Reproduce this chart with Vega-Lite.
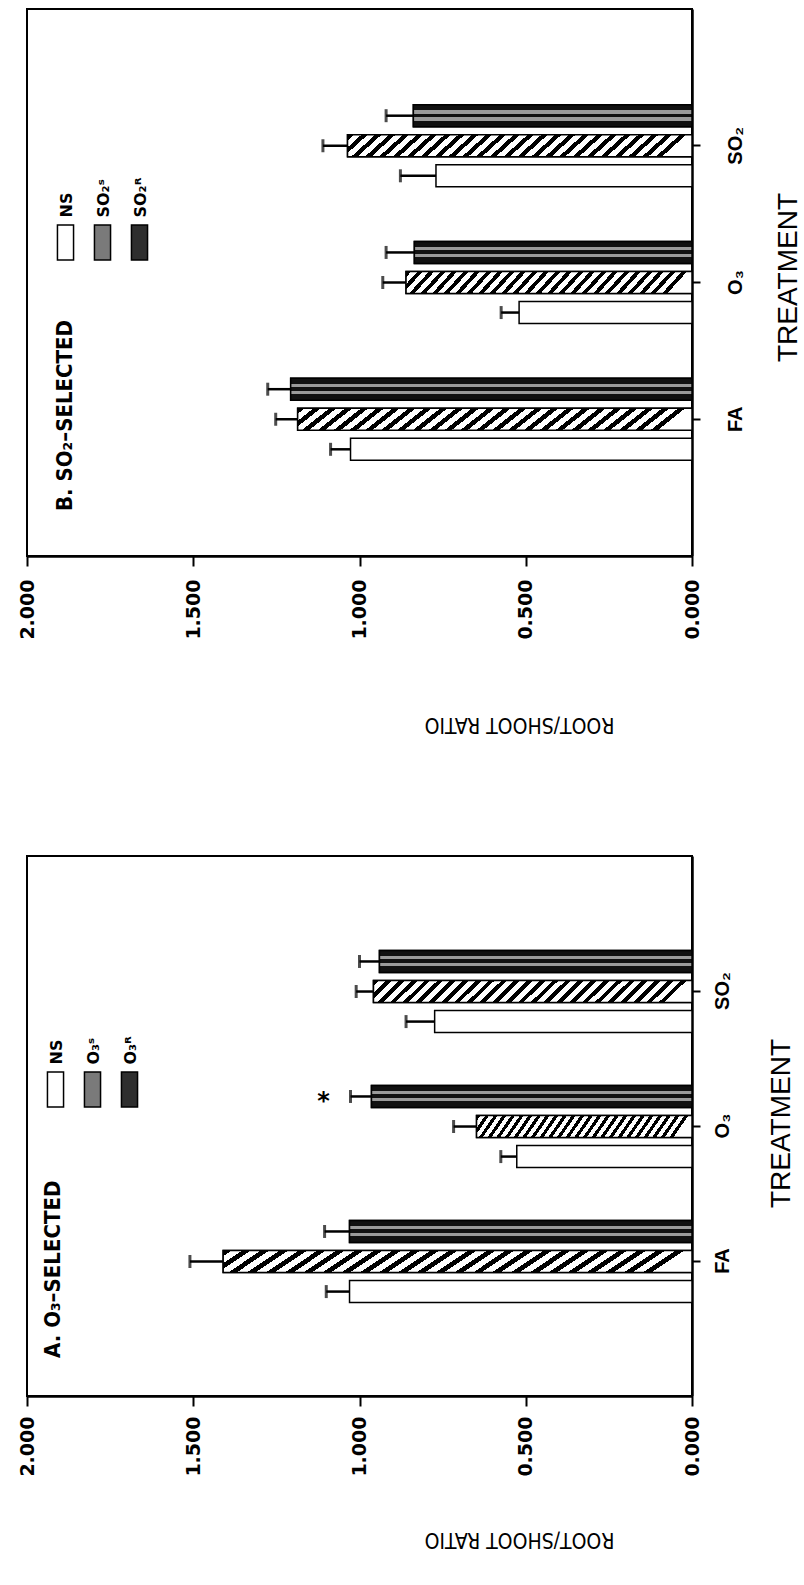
{
  "$schema": "https://vega.github.io/schema/vega-lite/v6.json",
  "background": "white",
  "padding": {"left": 17, "top": 8, "right": 4, "bottom": 30},
  "autosize": {"type": "pad"},
  "config": {
    "view": {"stroke": "black", "strokeWidth": 2},
    "axis": {"domainColor": "black", "tickColor": "black", "labelColor": "black", "titleColor": "black", "grid": false}
  },
  "datasets": {
    "bars": [
      {"panel": "A", "treatment": "FA", "line": "NS", "ratio": 1.03, "upper": 1.10, "sig": ""},
      {"panel": "A", "treatment": "FA", "line": "S", "ratio": 1.41, "upper": 1.51, "sig": ""},
      {"panel": "A", "treatment": "FA", "line": "R", "ratio": 1.03, "upper": 1.105, "sig": ""},
      {"panel": "A", "treatment": "O₃", "line": "NS", "ratio": 0.527, "upper": 0.575, "sig": ""},
      {"panel": "A", "treatment": "O₃", "line": "S", "ratio": 0.648, "upper": 0.717, "sig": ""},
      {"panel": "A", "treatment": "O₃", "line": "R", "ratio": 0.964, "upper": 1.027, "sig": "*"},
      {"panel": "A", "treatment": "SO₂", "line": "NS", "ratio": 0.774, "upper": 0.86, "sig": ""},
      {"panel": "A", "treatment": "SO₂", "line": "S", "ratio": 0.958, "upper": 1.01, "sig": ""},
      {"panel": "A", "treatment": "SO₂", "line": "R", "ratio": 0.94, "upper": 1.00, "sig": ""},
      {"panel": "B", "treatment": "FA", "line": "NS", "ratio": 1.027, "upper": 1.087, "sig": ""},
      {"panel": "B", "treatment": "FA", "line": "S", "ratio": 1.186, "upper": 1.252, "sig": ""},
      {"panel": "B", "treatment": "FA", "line": "R", "ratio": 1.207, "upper": 1.276, "sig": ""},
      {"panel": "B", "treatment": "O₃", "line": "NS", "ratio": 0.52, "upper": 0.574, "sig": ""},
      {"panel": "B", "treatment": "O₃", "line": "S", "ratio": 0.86, "upper": 0.93, "sig": ""},
      {"panel": "B", "treatment": "O₃", "line": "R", "ratio": 0.835, "upper": 0.92, "sig": ""},
      {"panel": "B", "treatment": "SO₂", "line": "NS", "ratio": 0.77, "upper": 0.877, "sig": ""},
      {"panel": "B", "treatment": "SO₂", "line": "S", "ratio": 1.036, "upper": 1.11, "sig": ""},
      {"panel": "B", "treatment": "SO₂", "line": "R", "ratio": 0.838, "upper": 0.92, "sig": ""}
    ]
  },
  "bounds": "flush",
  "spacing": 300,
  "resolve": {"scale": {"fill": "independent"}, "legend": {"fill": "independent"}},
  "vconcat": [
    {
      "width": 665,
      "height": 547,
      "title": {"text": "B. SO₂–SELECTED", "orient": "left", "anchor": "start", "frame": "group", "offset": -59, "dx": 45, "font": "Liberation Sans Narrow, DejaVu Sans Condensed, sans-serif", "fontSize": 22, "fontWeight": "bold", "color": "black"},
      "data": {"name": "bars"},
      "transform": [{"filter": "datum.panel === 'B'"}],
      "encoding": {
        "y": {"field": "treatment", "type": "nominal",
          "scale": {"domain": ["SO₂", "O₃", "FA"], "paddingInner": 0.4, "paddingOuter": 0.7},
          "axis": {"orient": "right", "title": "TREATMENT", "labelAngle": -90, "labelAlign": "center", "labelBaseline": "top", "labelFont": "Liberation Sans", "labelFontWeight": "bold", "labelFontSize": 20, "labelPadding": 25, "tickSize": 8, "tickWidth": 2, "domainWidth": 2.5, "titleAngle": -90, "titleX": 82, "titleY": 268, "titleAlign": "center", "titleBaseline": "top", "titleFont": "Liberation Sans", "titleFontSize": 28, "titleFontWeight": "normal"}},
        "yOffset": {"field": "line", "type": "nominal", "scale": {"domain": ["R", "S", "NS"], "paddingInner": 0.27, "paddingOuter": 0}}
      },
      "layer": [
        {
          "mark": {"type": "bar", "stroke": "black", "strokeWidth": 1.5},
          "encoding": {
            "x": {"field": "ratio", "type": "quantitative", "scale": {"domain": [0, 2], "reverse": true, "nice": false},
              "axis": {"orient": "bottom", "values": [0, 0.5, 1, 1.5, 2], "format": ".3f", "labelAngle": -90, "labelAlign": "right", "labelBaseline": "middle", "labelFont": "DejaVu Sans", "labelFontWeight": "bold", "labelFontSize": 19, "labelPadding": 13, "tickSize": 10, "tickWidth": 2, "domainWidth": 2.5, "title": "ROOT/SHOOT RATIO", "titleAngle": 180, "titleX": 492, "titleY": 167, "titleAlign": "center", "titleBaseline": "middle", "titleFont": "Liberation Sans Narrow, DejaVu Sans Condensed, sans-serif", "titleFontSize": 21, "titleFontWeight": "normal"}},
            "fill": {"field": "line", "type": "nominal",
              "scale": {"domain": ["NS", "S", "R"], "range": ["#ffffff", "#7a7a7a", "#2e2e2e"]},
              "legend": {"title": null, "orient": "none", "legendX": 20, "legendY": 215, "direction": "horizontal", "padding": 0, "columnPadding": 7, "symbolType": "M-0.46,-1H0.46V1H-0.46Z", "symbolSize": 1225, "symbolStrokeColor": "black", "symbolStrokeWidth": 1.5, "labelFont": "DejaVu Sans", "labelFontWeight": "bold", "labelFontSize": 16, "labelColor": "black", "labelOffset": 0,
                "labelExpr": "datum.label === 'S' ? 'SO₂ˢ' : datum.label === 'R' ? 'SO₂ᴿ' : 'NS'",
                "encode": {"labels": {"update": {"angle": {"value": -90}, "align": {"value": "left"}, "baseline": {"value": "middle"}, "dx": {"value": 25}, "dy": {"value": -17.5}}}}}}
          }
        },
        {
          "transform": [{"filter": "datum.line === 'S'"}],
          "mark": {"type": "bar", "stroke": "black", "strokeWidth": 1.5,
            "fill": {"gradient": "linear", "x1": 0, "y1": 0, "x2": 1, "y2": 0.07, "stops": [
              {"offset": 0, "color": "black"}, {"offset": 0.018, "color": "black"}, {"offset": 0.018, "color": "white"}, {"offset": 0.04, "color": "white"},
              {"offset": 0.04, "color": "black"}, {"offset": 0.058, "color": "black"}, {"offset": 0.058, "color": "white"}, {"offset": 0.08, "color": "white"},
              {"offset": 0.08, "color": "black"}, {"offset": 0.098, "color": "black"}, {"offset": 0.098, "color": "white"}, {"offset": 0.12, "color": "white"},
              {"offset": 0.12, "color": "black"}, {"offset": 0.138, "color": "black"}, {"offset": 0.138, "color": "white"}, {"offset": 0.16, "color": "white"},
              {"offset": 0.16, "color": "black"}, {"offset": 0.178, "color": "black"}, {"offset": 0.178, "color": "white"}, {"offset": 0.2, "color": "white"},
              {"offset": 0.2, "color": "black"}, {"offset": 0.218, "color": "black"}, {"offset": 0.218, "color": "white"}, {"offset": 0.24, "color": "white"},
              {"offset": 0.24, "color": "black"}, {"offset": 0.258, "color": "black"}, {"offset": 0.258, "color": "white"}, {"offset": 0.28, "color": "white"},
              {"offset": 0.28, "color": "black"}, {"offset": 0.298, "color": "black"}, {"offset": 0.298, "color": "white"}, {"offset": 0.32, "color": "white"},
              {"offset": 0.32, "color": "black"}, {"offset": 0.338, "color": "black"}, {"offset": 0.338, "color": "white"}, {"offset": 0.36, "color": "white"},
              {"offset": 0.36, "color": "black"}, {"offset": 0.378, "color": "black"}, {"offset": 0.378, "color": "white"}, {"offset": 0.4, "color": "white"},
              {"offset": 0.4, "color": "black"}, {"offset": 0.418, "color": "black"}, {"offset": 0.418, "color": "white"}, {"offset": 0.44, "color": "white"},
              {"offset": 0.44, "color": "black"}, {"offset": 0.458, "color": "black"}, {"offset": 0.458, "color": "white"}, {"offset": 0.48, "color": "white"},
              {"offset": 0.48, "color": "black"}, {"offset": 0.498, "color": "black"}, {"offset": 0.498, "color": "white"}, {"offset": 0.52, "color": "white"},
              {"offset": 0.52, "color": "black"}, {"offset": 0.538, "color": "black"}, {"offset": 0.538, "color": "white"}, {"offset": 0.56, "color": "white"},
              {"offset": 0.56, "color": "black"}, {"offset": 0.578, "color": "black"}, {"offset": 0.578, "color": "white"}, {"offset": 0.6, "color": "white"},
              {"offset": 0.6, "color": "black"}, {"offset": 0.618, "color": "black"}, {"offset": 0.618, "color": "white"}, {"offset": 0.64, "color": "white"},
              {"offset": 0.64, "color": "black"}, {"offset": 0.658, "color": "black"}, {"offset": 0.658, "color": "white"}, {"offset": 0.68, "color": "white"},
              {"offset": 0.68, "color": "black"}, {"offset": 0.698, "color": "black"}, {"offset": 0.698, "color": "white"}, {"offset": 0.72, "color": "white"},
              {"offset": 0.72, "color": "black"}, {"offset": 0.738, "color": "black"}, {"offset": 0.738, "color": "white"}, {"offset": 0.76, "color": "white"},
              {"offset": 0.76, "color": "black"}, {"offset": 0.778, "color": "black"}, {"offset": 0.778, "color": "white"}, {"offset": 0.8, "color": "white"},
              {"offset": 0.8, "color": "black"}, {"offset": 0.818, "color": "black"}, {"offset": 0.818, "color": "white"}, {"offset": 0.84, "color": "white"},
              {"offset": 0.84, "color": "black"}, {"offset": 0.858, "color": "black"}, {"offset": 0.858, "color": "white"}, {"offset": 0.88, "color": "white"},
              {"offset": 0.88, "color": "black"}, {"offset": 0.898, "color": "black"}, {"offset": 0.898, "color": "white"}, {"offset": 0.92, "color": "white"},
              {"offset": 0.92, "color": "black"}, {"offset": 0.938, "color": "black"}, {"offset": 0.938, "color": "white"}, {"offset": 0.96, "color": "white"},
              {"offset": 0.96, "color": "black"}, {"offset": 0.978, "color": "black"}, {"offset": 0.978, "color": "white"}, {"offset": 1, "color": "white"}
            ]}},
          "encoding": {"x": {"field": "ratio", "type": "quantitative"}}
        },
        {
          "transform": [{"filter": "datum.line === 'R'"}],
          "mark": {"type": "bar", "stroke": "black", "strokeWidth": 1.5,
            "fill": {"gradient": "linear", "x1": 0, "y1": 0, "x2": 0, "y2": 1, "stops": [
              {"offset": 0, "color": "#111111"}, {"offset": 0.26, "color": "#111111"}, {"offset": 0.26, "color": "#9a9a9a"}, {"offset": 0.4, "color": "#9a9a9a"},
              {"offset": 0.4, "color": "#111111"}, {"offset": 0.58, "color": "#111111"}, {"offset": 0.58, "color": "#9a9a9a"}, {"offset": 0.72, "color": "#9a9a9a"},
              {"offset": 0.72, "color": "#111111"}, {"offset": 1, "color": "#111111"}
            ]}},
          "encoding": {"x": {"field": "ratio", "type": "quantitative"}}
        },
        {
          "mark": {"type": "rule", "strokeWidth": 2.5, "color": "black"},
          "encoding": {"x": {"field": "ratio", "type": "quantitative"}, "x2": {"field": "upper"}}
        },
        {
          "mark": {"type": "tick", "thickness": 3, "size": 13, "color": "black"},
          "encoding": {"x": {"field": "upper", "type": "quantitative"}}
        }
      ]
    },
    {
      "width": 665,
      "height": 540,
      "title": {"text": "A. O₃–SELECTED", "orient": "left", "anchor": "start", "frame": "group", "offset": -47, "dx": 38, "font": "Liberation Sans Narrow, DejaVu Sans Condensed, sans-serif", "fontSize": 22, "fontWeight": "bold", "color": "black"},
      "data": {"name": "bars"},
      "transform": [{"filter": "datum.panel === 'A'"}],
      "encoding": {
        "y": {"field": "treatment", "type": "nominal",
          "scale": {"domain": ["SO₂", "O₃", "FA"], "paddingInner": 0.4, "paddingOuter": 0.7},
          "axis": {"orient": "right", "title": "TREATMENT", "labelAngle": -90, "labelAlign": "center", "labelBaseline": "top", "labelFont": "Liberation Sans", "labelFontWeight": "bold", "labelFontSize": 20, "labelPadding": 12, "tickSize": 8, "tickWidth": 2, "domainWidth": 2.5, "titleAngle": -90, "titleX": 75, "titleY": 267, "titleAlign": "center", "titleBaseline": "top", "titleFont": "Liberation Sans", "titleFontSize": 28, "titleFontWeight": "normal"}},
        "yOffset": {"field": "line", "type": "nominal", "scale": {"domain": ["R", "S", "NS"], "paddingInner": 0.27, "paddingOuter": 0}}
      },
      "layer": [
        {
          "mark": {"type": "bar", "stroke": "black", "strokeWidth": 1.5},
          "encoding": {
            "x": {"field": "ratio", "type": "quantitative", "scale": {"domain": [0, 2], "reverse": true, "nice": false},
              "axis": {"orient": "bottom", "values": [0, 0.5, 1, 1.5, 2], "format": ".3f", "labelAngle": -90, "labelAlign": "right", "labelBaseline": "middle", "labelFont": "DejaVu Sans", "labelFontWeight": "bold", "labelFontSize": 19, "labelPadding": 10, "tickSize": 10, "tickWidth": 2, "domainWidth": 2.5, "title": "ROOT/SHOOT RATIO", "titleAngle": 180, "titleX": 492, "titleY": 142, "titleAlign": "center", "titleBaseline": "middle", "titleFont": "Liberation Sans Narrow, DejaVu Sans Condensed, sans-serif", "titleFontSize": 21, "titleFontWeight": "normal"}},
            "fill": {"field": "line", "type": "nominal",
              "scale": {"domain": ["NS", "S", "R"], "range": ["#ffffff", "#7a7a7a", "#2e2e2e"]},
              "legend": {"title": null, "orient": "none", "legendX": 10, "legendY": 215, "direction": "horizontal", "padding": 0, "columnPadding": 7, "symbolType": "M-0.46,-1H0.46V1H-0.46Z", "symbolSize": 1225, "symbolStrokeColor": "black", "symbolStrokeWidth": 1.5, "labelFont": "DejaVu Sans", "labelFontWeight": "bold", "labelFontSize": 16, "labelColor": "black", "labelOffset": 0,
                "labelExpr": "datum.label === 'S' ? 'O₃ˢ' : datum.label === 'R' ? 'O₃ᴿ' : 'NS'",
                "encode": {"labels": {"update": {"angle": {"value": -90}, "align": {"value": "left"}, "baseline": {"value": "middle"}, "dx": {"value": 25}, "dy": {"value": -17.5}}}}}}
          }
        },
        {
          "transform": [{"filter": "datum.line === 'S'"}],
          "mark": {"type": "bar", "stroke": "black", "strokeWidth": 1.5,
            "fill": {"gradient": "linear", "x1": 0, "y1": 0, "x2": 1, "y2": 0.07, "stops": [
              {"offset": 0, "color": "black"}, {"offset": 0.018, "color": "black"}, {"offset": 0.018, "color": "white"}, {"offset": 0.04, "color": "white"},
              {"offset": 0.04, "color": "black"}, {"offset": 0.058, "color": "black"}, {"offset": 0.058, "color": "white"}, {"offset": 0.08, "color": "white"},
              {"offset": 0.08, "color": "black"}, {"offset": 0.098, "color": "black"}, {"offset": 0.098, "color": "white"}, {"offset": 0.12, "color": "white"},
              {"offset": 0.12, "color": "black"}, {"offset": 0.138, "color": "black"}, {"offset": 0.138, "color": "white"}, {"offset": 0.16, "color": "white"},
              {"offset": 0.16, "color": "black"}, {"offset": 0.178, "color": "black"}, {"offset": 0.178, "color": "white"}, {"offset": 0.2, "color": "white"},
              {"offset": 0.2, "color": "black"}, {"offset": 0.218, "color": "black"}, {"offset": 0.218, "color": "white"}, {"offset": 0.24, "color": "white"},
              {"offset": 0.24, "color": "black"}, {"offset": 0.258, "color": "black"}, {"offset": 0.258, "color": "white"}, {"offset": 0.28, "color": "white"},
              {"offset": 0.28, "color": "black"}, {"offset": 0.298, "color": "black"}, {"offset": 0.298, "color": "white"}, {"offset": 0.32, "color": "white"},
              {"offset": 0.32, "color": "black"}, {"offset": 0.338, "color": "black"}, {"offset": 0.338, "color": "white"}, {"offset": 0.36, "color": "white"},
              {"offset": 0.36, "color": "black"}, {"offset": 0.378, "color": "black"}, {"offset": 0.378, "color": "white"}, {"offset": 0.4, "color": "white"},
              {"offset": 0.4, "color": "black"}, {"offset": 0.418, "color": "black"}, {"offset": 0.418, "color": "white"}, {"offset": 0.44, "color": "white"},
              {"offset": 0.44, "color": "black"}, {"offset": 0.458, "color": "black"}, {"offset": 0.458, "color": "white"}, {"offset": 0.48, "color": "white"},
              {"offset": 0.48, "color": "black"}, {"offset": 0.498, "color": "black"}, {"offset": 0.498, "color": "white"}, {"offset": 0.52, "color": "white"},
              {"offset": 0.52, "color": "black"}, {"offset": 0.538, "color": "black"}, {"offset": 0.538, "color": "white"}, {"offset": 0.56, "color": "white"},
              {"offset": 0.56, "color": "black"}, {"offset": 0.578, "color": "black"}, {"offset": 0.578, "color": "white"}, {"offset": 0.6, "color": "white"},
              {"offset": 0.6, "color": "black"}, {"offset": 0.618, "color": "black"}, {"offset": 0.618, "color": "white"}, {"offset": 0.64, "color": "white"},
              {"offset": 0.64, "color": "black"}, {"offset": 0.658, "color": "black"}, {"offset": 0.658, "color": "white"}, {"offset": 0.68, "color": "white"},
              {"offset": 0.68, "color": "black"}, {"offset": 0.698, "color": "black"}, {"offset": 0.698, "color": "white"}, {"offset": 0.72, "color": "white"},
              {"offset": 0.72, "color": "black"}, {"offset": 0.738, "color": "black"}, {"offset": 0.738, "color": "white"}, {"offset": 0.76, "color": "white"},
              {"offset": 0.76, "color": "black"}, {"offset": 0.778, "color": "black"}, {"offset": 0.778, "color": "white"}, {"offset": 0.8, "color": "white"},
              {"offset": 0.8, "color": "black"}, {"offset": 0.818, "color": "black"}, {"offset": 0.818, "color": "white"}, {"offset": 0.84, "color": "white"},
              {"offset": 0.84, "color": "black"}, {"offset": 0.858, "color": "black"}, {"offset": 0.858, "color": "white"}, {"offset": 0.88, "color": "white"},
              {"offset": 0.88, "color": "black"}, {"offset": 0.898, "color": "black"}, {"offset": 0.898, "color": "white"}, {"offset": 0.92, "color": "white"},
              {"offset": 0.92, "color": "black"}, {"offset": 0.938, "color": "black"}, {"offset": 0.938, "color": "white"}, {"offset": 0.96, "color": "white"},
              {"offset": 0.96, "color": "black"}, {"offset": 0.978, "color": "black"}, {"offset": 0.978, "color": "white"}, {"offset": 1, "color": "white"}
            ]}},
          "encoding": {"x": {"field": "ratio", "type": "quantitative"}}
        },
        {
          "transform": [{"filter": "datum.line === 'R'"}],
          "mark": {"type": "bar", "stroke": "black", "strokeWidth": 1.5,
            "fill": {"gradient": "linear", "x1": 0, "y1": 0, "x2": 0, "y2": 1, "stops": [
              {"offset": 0, "color": "#111111"}, {"offset": 0.26, "color": "#111111"}, {"offset": 0.26, "color": "#9a9a9a"}, {"offset": 0.4, "color": "#9a9a9a"},
              {"offset": 0.4, "color": "#111111"}, {"offset": 0.58, "color": "#111111"}, {"offset": 0.58, "color": "#9a9a9a"}, {"offset": 0.72, "color": "#9a9a9a"},
              {"offset": 0.72, "color": "#111111"}, {"offset": 1, "color": "#111111"}
            ]}},
          "encoding": {"x": {"field": "ratio", "type": "quantitative"}}
        },
        {
          "mark": {"type": "rule", "strokeWidth": 2.5, "color": "black"},
          "encoding": {"x": {"field": "ratio", "type": "quantitative"}, "x2": {"field": "upper"}}
        },
        {
          "mark": {"type": "tick", "thickness": 3, "size": 13, "color": "black"},
          "encoding": {"x": {"field": "upper", "type": "quantitative"}}
        },
        {
          "mark": {"type": "text", "dx": -27, "dy": 6, "fontSize": 24, "fontWeight": "bold", "font": "DejaVu Sans", "color": "black"},
          "encoding": {"x": {"field": "upper", "type": "quantitative"}, "text": {"field": "sig"}}
        }
      ]
    }
  ]
}
